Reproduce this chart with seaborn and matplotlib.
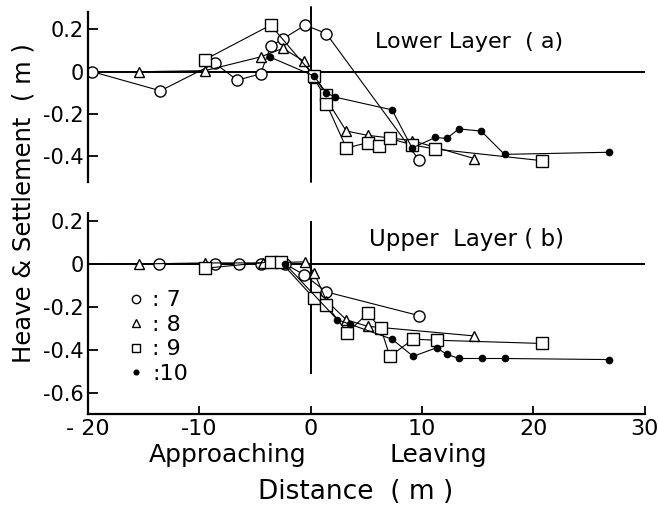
import matplotlib
matplotlib.use("Agg")
import matplotlib.pyplot as plt
import seaborn as sns
from matplotlib.lines import Line2D

sns.set_style("white")
plt.rcParams['font.family'] = ['DejaVu Sans']
plt.rcParams['text.color'] = 'black'
plt.rcParams['xtick.color'] = 'black'
plt.rcParams['ytick.color'] = 'black'
plt.rcParams['axes.edgecolor'] = 'black'

# Lower layer (a)
x7_low = [-19.6, -13.5, -8.6, -6.6, -4.5, -3.6, -2.5, -0.5, 1.4, 9.7]
y7_low = [0.0, -0.09, 0.04, -0.04, -0.01, 0.12, 0.155, 0.22, 0.18, -0.415]
x8_low = [-15.4, -9.5, -4.5, -2.5, -0.6, 0.3, 1.4, 3.2, 5.1, 9.1, 14.7]
y8_low = [0.0, 0.005, 0.07, 0.11, 0.05, -0.03, -0.13, -0.28, -0.30, -0.325, -0.41]
x9_low = [-9.5, -3.6, 0.3, 1.4, 1.4, 3.2, 5.1, 6.1, 7.1, 9.1, 11.2, 20.8]
y9_low = [0.057, 0.22, -0.02, -0.11, -0.15, -0.36, -0.335, -0.35, -0.315, -0.345, -0.365, -0.42]
x10_low = [-3.7, 0.3, 1.4, 2.2, 7.3, 9.1, 11.2, 12.2, 13.3, 15.3, 17.4, 26.8]
y10_low = [0.07, -0.02, -0.1, -0.12, -0.18, -0.36, -0.31, -0.315, -0.27, -0.28, -0.39, -0.38]

# Upper layer (b)
x7_up = [-13.6, -8.6, -6.4, -4.5, -2.3, -0.6, 1.4, 9.7]
y7_up = [0.0, 0.0, 0.0, 0.0, 0.0, -0.05, -0.13, -0.24]
x8_up = [-15.4, -9.5, -4.3, -0.5, 0.3, 1.4, 3.2, 5.1, 14.7]
y8_up = [0.0, 0.005, 0.005, 0.01, -0.04, -0.17, -0.26, -0.29, -0.335]
x9_up = [-9.5, -3.6, -2.7, 0.3, 1.4, 3.3, 5.1, 6.3, 7.1, 9.2, 11.3, 20.8]
y9_up = [-0.02, 0.01, 0.01, -0.16, -0.19, -0.32, -0.23, -0.30, -0.43, -0.35, -0.355, -0.37]
x10_up = [-2.3, 2.4, 3.5, 7.3, 9.2, 11.3, 12.2, 13.3, 15.4, 17.4, 26.8]
y10_up = [0.0, -0.26, -0.28, -0.35, -0.43, -0.39, -0.42, -0.44, -0.44, -0.44, -0.445]

run_labels = [': 7', ': 8', ': 9', ':10']
x_ticks = [-20, -10, 0, 10, 20, 30]
x_ticklabels = ['- 20', '-10', '0', '10', '20', '30']

styles = [
    dict(marker='o', markerfacecolor='white', markersize=8),
    dict(marker='^', markerfacecolor='white', markersize=7.5),
    dict(marker='s', markerfacecolor='white', markersize=8),
    dict(marker='o', markerfacecolor='black', markersize=4.5),
]


def draw(ax, series):
    for (xs, ys), st in zip(series, styles):
        sns.lineplot(x=xs, y=ys, ax=ax, color='black', linewidth=0.8,
                     sort=False, estimator=None, markeredgecolor='black',
                     markeredgewidth=1.0, legend=False, **st)


fig = plt.figure(figsize=(6.59, 5.11), dpi=100)
ax1 = fig.add_axes([0.1335, 0.644, 0.845, 0.333])
ax2 = fig.add_axes([0.1335, 0.19, 0.845, 0.393])

draw(ax1, [(x7_low, y7_low), (x8_low, y8_low), (x9_low, y9_low), (x10_low, y10_low)])
draw(ax2, [(x7_up, y7_up), (x8_up, y8_up), (x9_up, y9_up), (x10_up, y10_up)])

for ax in (ax1, ax2):
    ax.set_xlim(-20, 30)
    ax.axhline(0, color='black', lw=1.4, zorder=1)
    for s in ['top', 'right']:
        ax.spines[s].set_visible(False)
    ax.spines['left'].set_linewidth(1.6)
    ax.tick_params(axis='y', direction='in', length=7, width=1.3,
                   labelsize=15, pad=3, left=True)
    ax.set_xlabel('')
    ax.set_ylabel('')

# top panel
ax1.set_ylim(-0.52, 0.283)
ax1.spines['bottom'].set_visible(False)
ax1.set_xticks([])
ax1.set_yticks([0.2, 0, -0.2, -0.4])
ax1.set_yticklabels(['0.2', '0', '-0.2', '-0.4'])
ax1.axvline(0, ymin=0.0, ymax=1.03, color='black', lw=1.4, clip_on=False, zorder=1)
ax1.text(0.685, 0.82, 'Lower Layer  ( a)', transform=ax1.transAxes,
         ha='center', va='center', fontsize=16)

# bottom panel
ax2.set_ylim(-0.698, 0.237)
ax2.spines['bottom'].set_linewidth(1.6)
ax2.set_yticks([0.2, 0, -0.2, -0.4, -0.6])
ax2.set_yticklabels(['0.2', '0', '-0.2', '-0.4', '-0.6'])
ax2.set_xticks(x_ticks)
ax2.set_xticklabels(x_ticklabels)
ax2.tick_params(axis='x', direction='in', length=6, width=1.3,
                labelsize=16, pad=4, bottom=True)
ax2.vlines(0, -0.51, 0.2, color='black', lw=1.4, zorder=1)
ax2.text(0.68, 0.87, 'Upper  Layer ( b)', transform=ax2.transAxes,
         ha='center', va='center', fontsize=16.5)

handles = [Line2D([], [], color='black', linestyle='none',
                  markeredgecolor='black', markeredgewidth=1.0,
                  **dict(st, markersize=st['markersize'] * 0.75)) for st in styles]
ax2.legend(handles, run_labels, loc='upper left', bbox_to_anchor=(0.055, 0.67),
           frameon=False, fontsize=16, handlelength=0.6, handletextpad=0.4,
           labelspacing=0.2, borderpad=0)

fig.text(0.345, 1 - 455 / 511, 'Approaching', ha='center', va='center', fontsize=18)
fig.text(0.665, 1 - 455 / 511, 'Leaving', ha='center', va='center', fontsize=18)
fig.text(0.54, 1 - 492 / 511, 'Distance  ( m )', ha='center', va='center', fontsize=19)
fig.text(0.035, 1 - 203 / 511, 'Heave & Settlement  ( m )', rotation=90,
         ha='center', va='center', fontsize=17.5)

fig.savefig('out.png', dpi=100, facecolor='white')
